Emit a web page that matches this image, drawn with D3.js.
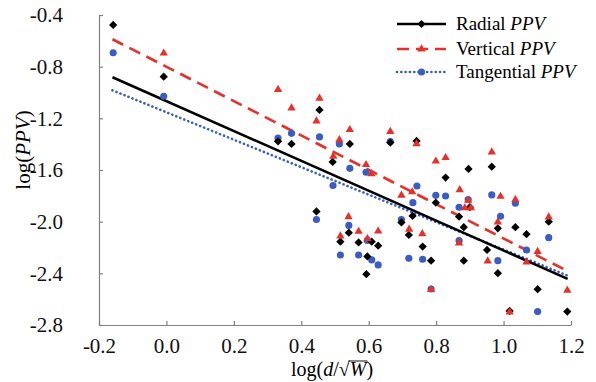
<!DOCTYPE html>
<html lang="en">
<head>
  <meta charset="UTF-8">
  <title>log(PPV) vs scaled distance</title>
  <script src="https://cdnjs.cloudflare.com/ajax/libs/d3/7.8.5/d3.min.js"></script>
  <style>
      body {
          margin: 0;
          background: #fff;
      }
      svg text {
          font-family: "Liberation Serif", "Times New Roman", serif;
      }
  </style>
</head>
<body>

<div id="chart"></div>

<script>
  // Data: [log(d/sqrt W), log(PPV)]
  const radial = [
    [-0.158, -0.477], [-0.008, -0.878], [0.331, -1.378], [0.371, -1.398], [0.454, -1.135],
    [0.445, -1.921], [0.493, -1.538], [0.544, -1.398], [0.541, -2.085], [0.516, -2.155],
    [0.570, -2.161], [0.609, -2.155], [0.628, -2.186], [0.596, -2.269], [0.593, -2.407],
    [0.664, -1.388], [0.742, -1.375], [0.697, -2.006], [0.730, -1.956], [0.719, -2.103],
    [0.760, -2.193], [0.785, -2.302], [0.799, -1.853], [0.828, -1.659], [0.896, -1.592],
    [0.965, -1.574], [0.868, -1.961], [0.882, -2.043], [0.900, -1.888], [0.882, -2.302],
    [0.951, -2.219], [0.983, -2.051], [0.983, -2.399], [1.035, -2.043], [1.068, -2.097],
    [1.134, -2.000], [1.101, -2.523], [1.018, -2.691], [1.189, -2.696]
  ];

  const vertical = [
    [-0.008, -0.692], [0.331, -0.973], [0.371, -1.116], [0.454, -1.042], [0.445, -1.217],
    [0.544, -1.284], [0.513, -1.362], [0.495, -1.491], [0.592, -1.555], [0.608, -1.625],
    [0.664, -1.299], [0.742, -1.393], [0.799, -1.528], [0.697, -1.793], [0.729, -1.766],
    [0.540, -1.958], [0.516, -2.107], [0.570, -2.072], [0.596, -2.128], [0.628, -2.070],
    [0.720, -2.056], [0.759, -2.091], [0.785, -2.523], [0.828, -1.501], [0.965, -1.458],
    [0.870, -1.749], [0.895, -1.832], [0.885, -1.890], [0.903, -1.890], [0.991, -1.801],
    [1.035, -1.826], [0.983, -2.000], [0.868, -2.162], [0.953, -2.302], [1.068, -2.309],
    [1.101, -2.227], [1.134, -1.961], [1.189, -2.528], [1.018, -2.696]
  ];

  const tangential = [
    [-0.158, -0.692], [-0.008, -1.029], [0.331, -1.352], [0.371, -1.316], [0.454, -1.344],
    [0.513, -1.398], [0.544, -1.587], [0.592, -1.617], [0.494, -1.720], [0.445, -1.983],
    [0.541, -2.029], [0.516, -2.258], [0.570, -2.258], [0.609, -2.296], [0.628, -2.335],
    [0.596, -2.145], [0.664, -1.379], [0.743, -1.724], [0.731, -1.853], [0.697, -1.983],
    [0.719, -2.283], [0.760, -2.291], [0.799, -1.796], [0.828, -1.801], [0.868, -1.888],
    [0.895, -1.828], [0.965, -1.793], [1.035, -1.857], [0.991, -1.958], [0.868, -2.147],
    [0.983, -2.302], [1.068, -2.219], [1.134, -2.124], [0.785, -2.521], [1.101, -2.696]
  ];

  // Trend line end points
  const radialFit = [[-0.16, -0.882], [1.19, -2.443]];
  const verticalFit = [[-0.16, -0.588], [1.19, -2.383]];
  const tangentialFit = [[-0.16, -0.983], [1.19, -2.418]];

  const xTicks = [-0.2, 0.0, 0.2, 0.4, 0.6, 0.8, 1.0, 1.2];
  const yTicks = [-0.4, -0.8, -1.2, -1.6, -2.0, -2.4, -2.8];

  const width = 596;
  const height = 382;
  const marginLeft = 99;
  const marginRight = 25;
  const marginTop = 15;
  const marginBottom = 57;
  const fontSize = 19;      // legend
  const tickFontSize = 21;  // tick labels and y title
  const xTitleSize = 20;

  const red = "#e8302a";
  const blue = "#3a5cc4";
  const axisGrey = "#808080";

  const x = d3.scaleLinear([-0.2, 1.2], [marginLeft, width - marginRight]);
  const y = d3.scaleLinear([-2.8, -0.4], [height - marginBottom, marginTop]);

  const svg = d3.select("#chart")
      .append("svg")
      .attr("width", width)
      .attr("height", height)
      .attr("viewBox", [0, 0, width, height]);

  svg.append("rect").attr("width", width).attr("height", height).attr("fill", "#fff");

  // axes
  const gx = svg.append("g")
      .attr("transform", `translate(0,${height - marginBottom})`)
      .call(d3.axisBottom(x)
          .tickValues(xTicks)
          .tickFormat(d => d.toFixed(1))
          .tickSizeInner(-4)
          .tickSizeOuter(0)
          .tickPadding(13));

  const gy = svg.append("g")
      .attr("transform", `translate(${marginLeft},0)`)
      .call(d3.axisLeft(y)
          .tickValues(yTicks)
          .tickFormat(d => d.toFixed(1))
          .tickSizeInner(-4)
          .tickSizeOuter(0)
          .tickPadding(36));

  for (const g of [gx, gy]) {
    g.selectAll("path, line").attr("stroke", axisGrey).attr("stroke-width", 1.2);
    g.selectAll("text")
        .attr("fill", "#111")
        .style("font-size", tickFontSize + "px")
        .style("font-family", '"Liberation Serif", serif');
  }

  // marker shapes
  const diamond = d3.symbol(d3.symbolSquare, 34);
  const triangle = d3.symbol(d3.symbolTriangle, 30);
  const circle = d3.symbol(d3.symbolCircle, 40);

  const line = d3.line(d => x(d[0]), d => y(d[1]));

  // trend lines
  svg.append("path").datum(tangentialFit)
      .attr("d", line).attr("fill", "none")
      .attr("stroke", blue).attr("stroke-width", 2.6)
      .attr("stroke-linecap", "round").attr("stroke-dasharray", "0.1,4.2");

  svg.append("path").datum(radialFit)
      .attr("d", line).attr("fill", "none")
      .attr("stroke", "#000").attr("stroke-width", 2.6);

  svg.append("path").datum(verticalFit)
      .attr("d", line).attr("fill", "none")
      .attr("stroke", red).attr("stroke-width", 2.6)
      .attr("stroke-dasharray", "12,7");

  // points
  svg.append("g").selectAll("path")
      .data(tangential).join("path")
      .attr("d", circle)
      .attr("transform", d => `translate(${x(d[0])},${y(d[1])})`)
      .attr("fill", blue);

  svg.append("g").selectAll("path")
      .data(radial).join("path")
      .attr("d", diamond)
      .attr("transform", d => `translate(${x(d[0])},${y(d[1])}) rotate(45)`)
      .attr("fill", "#000");

  svg.append("g").selectAll("path")
      .data(vertical).join("path")
      .attr("d", triangle)
      .attr("transform", d => `translate(${x(d[0])},${y(d[1]) + 0.5})`)
      .attr("fill", red);

  // axis titles
  const yTitle = svg.append("text")
      .attr("transform", "translate(23,150) rotate(-90)")
      .attr("text-anchor", "middle")
      .attr("dy", "0.35em")
      .style("font-size", tickFontSize + "px");
  yTitle.append("tspan").text("log(");
  yTitle.append("tspan").attr("font-style", "italic").text("PPV");
  yTitle.append("tspan").text(")");

  const xTitleY = height - 6;
  const xTitle = svg.append("text")
      .attr("x", (marginLeft + width - marginRight) / 2 - 3)
      .attr("y", xTitleY)
      .attr("text-anchor", "middle")
      .style("font-size", xTitleSize + "px");
  xTitle.append("tspan").text("log(");
  xTitle.append("tspan").attr("font-style", "italic").text("d");
  xTitle.append("tspan").text("/√");
  xTitle.append("tspan").attr("font-style", "italic").text("W");
  xTitle.append("tspan").text(")");

  // radical bar over W
  const tNode = xTitle.node();
  const sqrtEnd = tNode.getEndPositionOfChar(6).x;
  const wEnd = tNode.getEndPositionOfChar(7).x;
  svg.append("line")
      .attr("x1", sqrtEnd - 1).attr("x2", wEnd + 1)
      .attr("y1", xTitleY - 15).attr("y2", xTitleY - 15)
      .attr("stroke", "#111").attr("stroke-width", 1);

  // legend
  const legendItems = [
    { name: "Radial ", color: "#000", shape: diamond, rot: 45, dash: null, cap: "butt", cy: 24 },
    { name: "Vertical ", color: red, shape: triangle, rot: 0, dash: "12,7", cap: "butt", cy: 49 },
    { name: "Tangential ", color: blue, shape: circle, rot: 0, dash: "0.1,4.2", cap: "round", cy: 72 }
  ];

  const legend = svg.append("g");
  const lx0 = 397, lx1 = 446, ltext = 456;

  legendItems.forEach(item => {
    legend.append("line")
        .attr("x1", lx0).attr("x2", lx1)
        .attr("y1", item.cy).attr("y2", item.cy)
        .attr("stroke", item.color).attr("stroke-width", 2.6)
        .attr("stroke-linecap", item.cap)
        .attr("stroke-dasharray", item.dash);
    legend.append("path")
        .attr("d", item.shape)
        .attr("transform", `translate(${(lx0 + lx1) / 2},${item.cy}) rotate(${item.rot})`)
        .attr("fill", item.color);
    const t = legend.append("text")
        .attr("x", ltext).attr("y", item.cy)
        .attr("dy", "0.33em")
        .style("font-size", fontSize + "px");
    t.append("tspan").text(item.name);
    t.append("tspan").attr("font-style", "italic").text("PPV");
  });
</script>
</body>
</html>
